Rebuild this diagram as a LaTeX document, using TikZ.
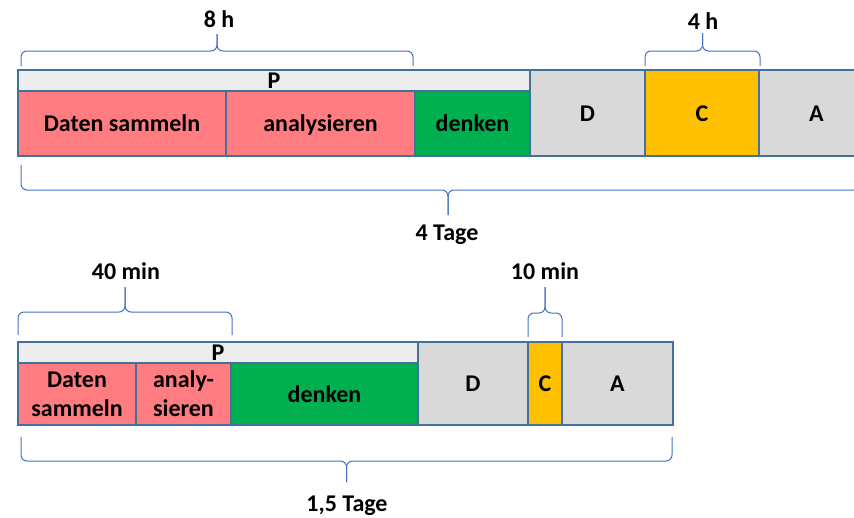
\documentclass[tikz,border=0pt]{standalone}
\usepackage{fontspec}
\setmainfont{Carlito}
\usetikzlibrary{positioning}

\definecolor{rahmen}{HTML}{41719C}
\definecolor{klammerblau}{HTML}{4472C4}
\definecolor{rosa}{HTML}{FF7C80}
\definecolor{gruen}{HTML}{00B050}
\definecolor{grau}{HTML}{D9D9D9}
\definecolor{hellgrau}{HTML}{EDEDED}
\definecolor{gelb}{HTML}{FFC000}

% geschweifte Klammer: links, rechts, Enden, Linie, Spitze
\newcommand\klammer[5]{%
  \pgfmathsetmacro\km{(#1+#2)/2}
  \draw[klammer] (#1,#3) -- (#1,#4) -- (\km,#4) -- (\km,#5);
  \draw[klammer] (#2,#3) -- (#2,#4) -- (\km,#4) -- (\km,#5);
}

\begin{document}
\begin{tikzpicture}[
    x=1pt, y=-1pt,
    node distance=0pt,
    zelle/.style={rectangle, draw=rahmen, line width=1.5pt, outer sep=0pt, inner sep=2pt,
        font=\fontsize{24}{29}\selectfont\bfseries, text height=16pt, text depth=0pt},
    zweizeilig/.style={zelle, align=center, text height=, text depth=},
    kopf/.style={zelle, fill=hellgrau, minimum height=21pt},
    klammer/.style={draw=klammerblau, line width=1pt, rounded corners=6pt},
    dauer/.style={anchor=base, font=\fontsize{24}{29}\selectfont\bfseries}
]
\clip (0,0) rectangle (854,517);

% PDCA lang
\node[kopf, minimum width=512pt, anchor=north west] (P1) at (18,70) {P};
\node[zelle, fill=rosa, minimum width=208pt, minimum height=65pt, anchor=north west] (sammeln1) at (P1.south west) {Daten sammeln};
\node[zelle, fill=rosa, minimum width=189pt, minimum height=65pt, right=of sammeln1] (analyse1) {analysieren};
\node[zelle, fill=gruen, minimum width=115pt, minimum height=65pt, right=of analyse1] (denken1) {denken};
\node[zelle, fill=grau, minimum width=115pt, minimum height=86pt, anchor=north west] (D1) at (P1.north east) {D};
\node[zelle, fill=gelb, minimum width=114pt, minimum height=86pt, right=of D1] (C1) {C};
\node[zelle, fill=grau, minimum width=115pt, minimum height=86pt, right=of C1] (A1) {A};

\klammer{21}{413}{66}{51}{34}
\node[dauer] (t8h) at (219,27) {8 h};
\klammer{645}{760}{66}{51}{33}
\node[dauer] (t4h) at (703,29) {4 h};
\klammer{21}{875}{165}{190}{215}
\node[dauer] (t4tage) at (447,240) {4 Tage};

% PDCA kurz
\node[kopf, minimum width=400pt, anchor=north west] (P2) at (18,342) {P};
\node[zweizeilig, fill=rosa, minimum width=118pt, minimum height=62pt, anchor=north west] (sammeln2) at (P2.south west) {Daten\\sammeln};
\node[zweizeilig, fill=rosa, minimum width=95pt, minimum height=62pt, right=of sammeln2] (analyse2) {analy-\\sieren};
\node[zelle, fill=gruen, minimum width=187pt, minimum height=62pt, right=of analyse2] (denken2) {denken};
\node[zelle, fill=grau, minimum width=110pt, minimum height=83pt, anchor=north west] (D2) at (P2.north east) {D};
\node[zelle, fill=gelb, minimum width=34pt, minimum height=83pt, right=of D2] (C2) {C};
\node[zelle, fill=grau, minimum width=111pt, minimum height=83pt, right=of C2] (A2) {A};

\klammer{18}{232}{335}{312}{287}
\node[dauer] (t40min) at (126,279) {40 min};
\klammer{528}{562}{337}{313}{287}
\node[dauer] (t10min) at (545,279) {10 min};
\klammer{21}{672}{437}{461}{482}
\node[dauer] (t15tage) at (347,511) {1,5 Tage};

\end{tikzpicture}
\end{document}
